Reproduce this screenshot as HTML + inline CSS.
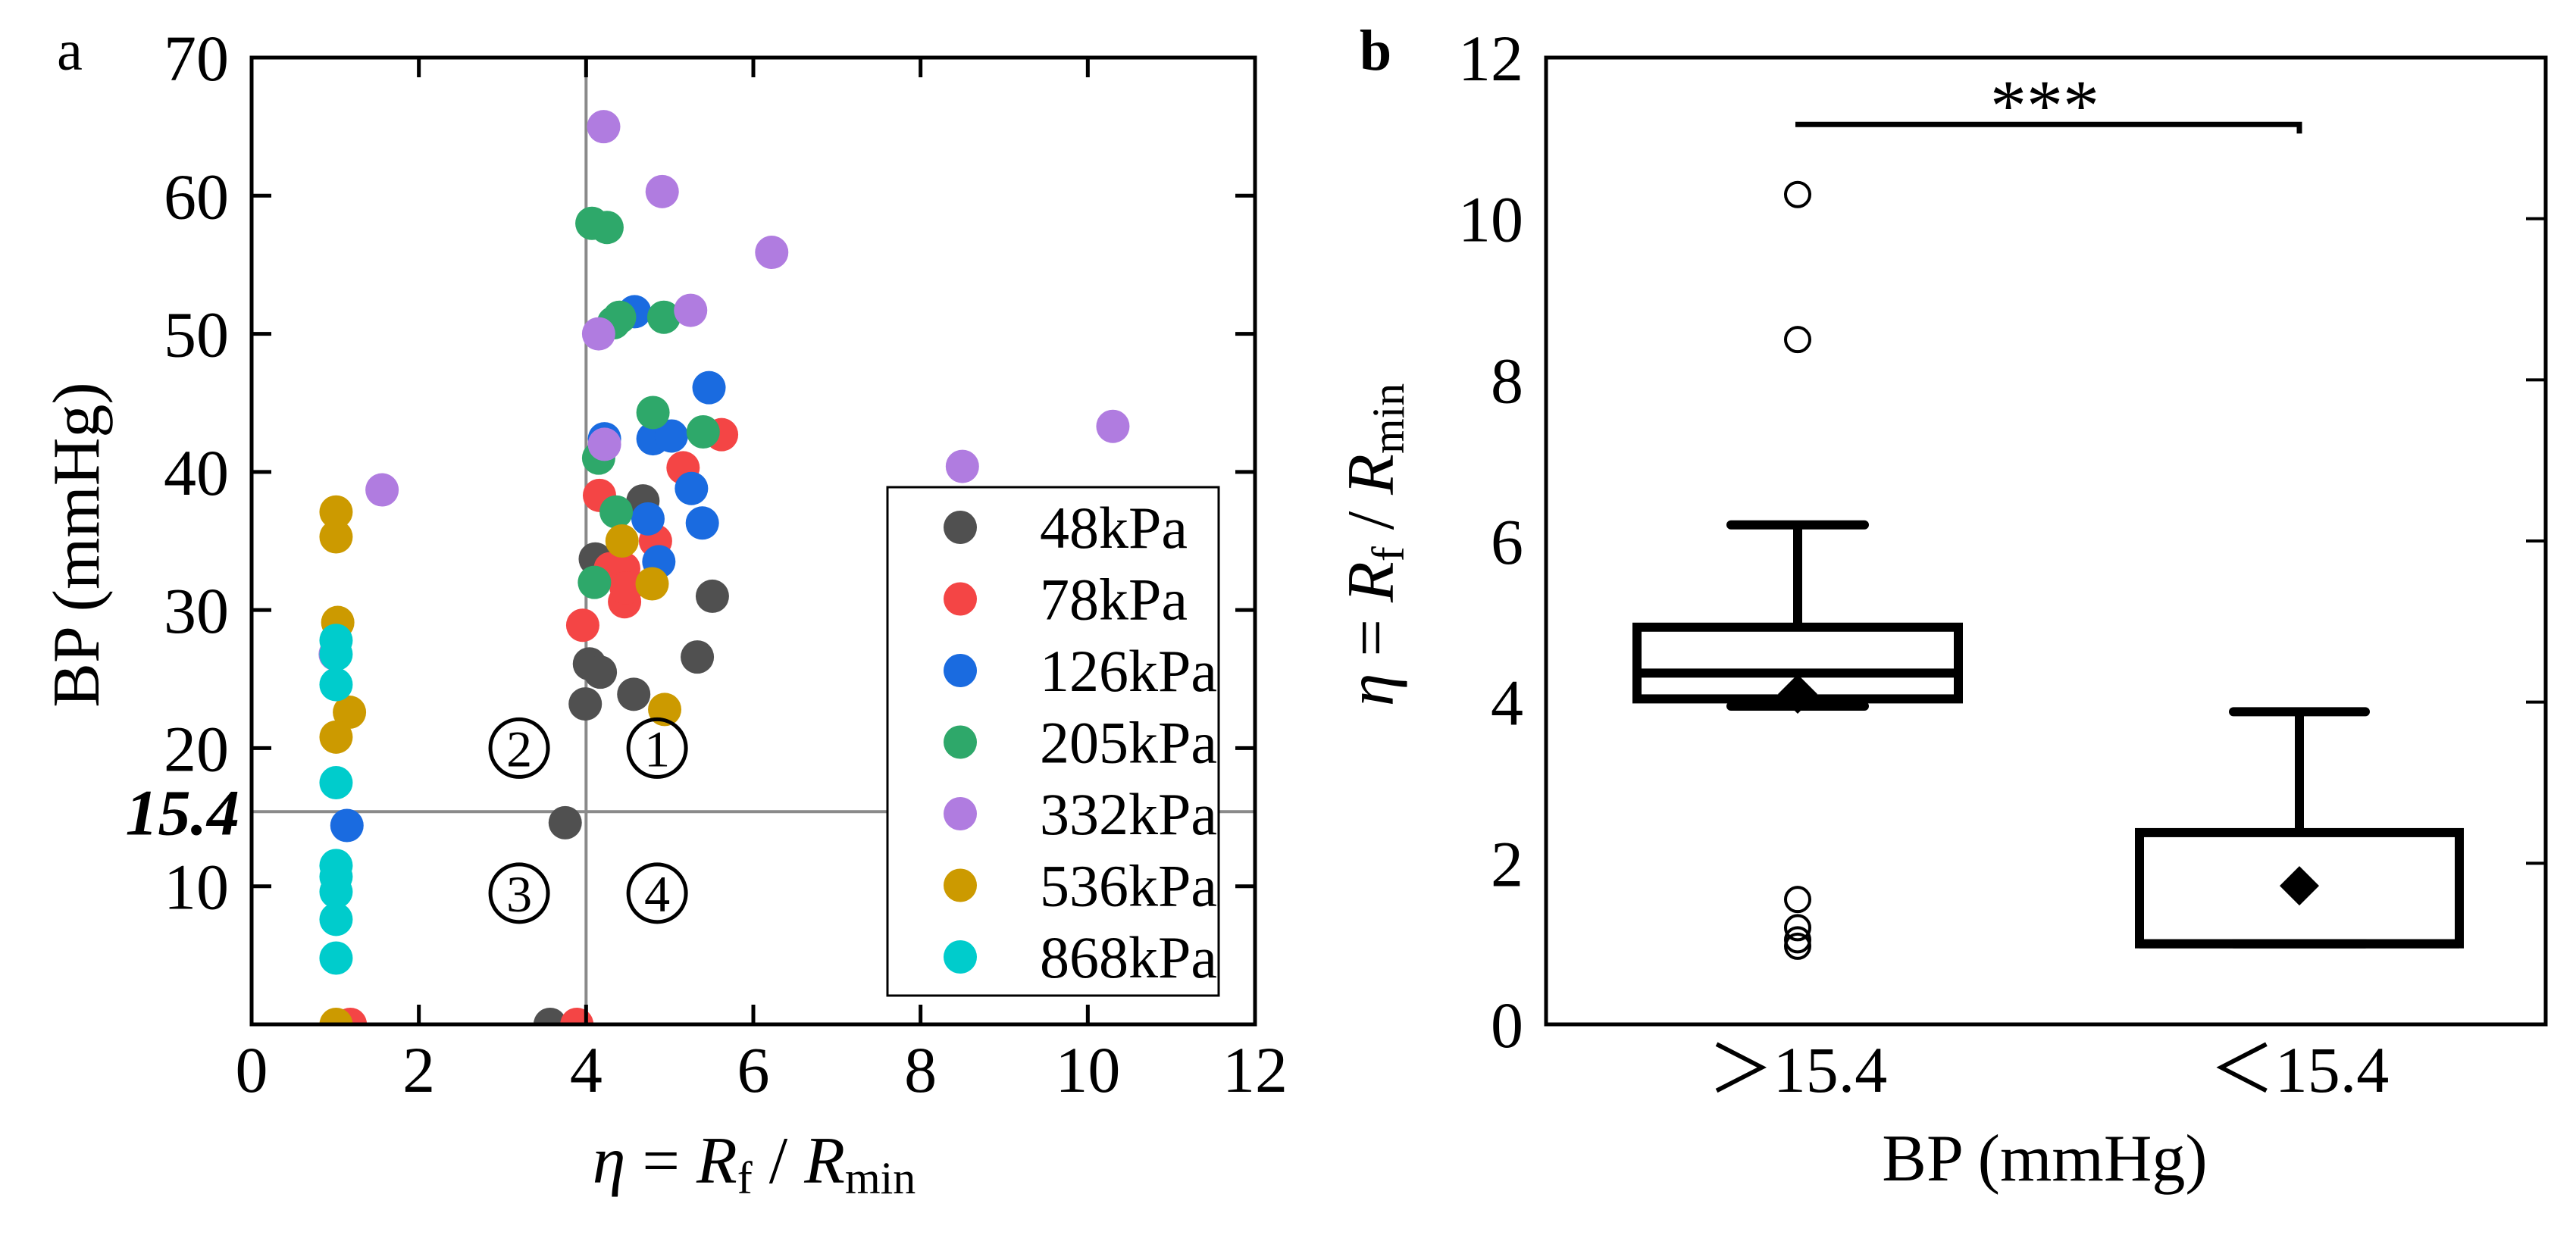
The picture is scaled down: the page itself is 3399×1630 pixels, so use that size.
<!DOCTYPE html>
<html><head><meta charset="utf-8">
<style>
html,body{margin:0;padding:0;background:#fff;}
svg{display:block;font-family:"Liberation Serif","DejaVu Serif",serif;}
</style></head>
<body>
<svg id="fig" width="3399" height="1630" viewBox="0 0 3399 1630" xmlns="http://www.w3.org/2000/svg">
<defs><clipPath id="clipA"><rect x="332" y="76" width="1324" height="1276"/></clipPath></defs>
<g id="panelA"></g>
<g id="panelB"></g>
</svg>
<script>
// ---------- Panel a data ----------
const seriesNames = ["48kPa","78kPa","126kPa","205kPa","332kPa","536kPa","868kPa"];
const seriesColors = ["#505050","#f44545","#1a6be0","#2ea86a","#b07ce0","#cc9a00","#00cccc"];
const etaGray = [3.57,3.75,3.99,4.04,4.17,4.57,4.11,4.68,5.33,5.51];
const bpGray  = [0,14.6,23.2,26.1,25.5,23.9,33.7,37.9,26.6,31.0];
const etaRed  = [1.18,3.89,3.96,4.16,4.29,4.46,4.45,4.83,5.16,5.62,4.48];
const bpRed   = [0,0,28.9,38.3,33.0,30.6,33.0,35.0,40.3,42.7,31.6];
const etaBlue = [1.14,4.22,4.58,4.74,4.80,5.02,4.87,5.26,5.39,5.47];
const bpBlue  = [14.4,42.4,51.6,36.6,42.4,42.6,33.5,38.8,36.3,46.1];
const etaGreen= [4.07,4.25,4.15,4.33,4.40,4.93,4.80,5.40,4.36,4.10];
const bpGreen = [58.0,57.7,41.0,50.8,51.2,51.2,44.3,42.9,37.1,32.0];
const etaPurple=[1.56,1.0,4.21,4.91,6.22,5.25,4.15,4.22,8.5,10.3];
const bpPurple= [38.7,26.8,65.0,60.3,55.9,51.7,50.0,42.0,40.4,43.3];
const etaGold = [1.01,1.01,1.01,1.03,1.17,1.01,4.43,4.79,4.94];
const bpGold  = [0,37.1,35.3,29.1,22.6,20.8,35.0,31.9,22.8];
const etaCyan = [1.01,1.01,1.01,1.01,1.01,1.01,1.01,1.01,1.01];
const bpCyan  = [27.8,26.8,24.6,17.5,11.5,10.7,9.6,7.6,4.8];
const xTicksA = [0,2,4,6,8,10,12];
const yTicksA = [10,20,30,40,50,60,70];
const thresholdBP = 15.4;
const thresholdEta = 4;

// ---------- Panel b data ----------
const groups = ["＞15.4","＜15.4"];
const q1 = [4.04,1.0];
const median = [4.36,1.0];
const q3 = [4.93,2.38];
const whiskerLow = [3.95,1.0];
const whiskerHigh = [6.2,3.88];
const means = [4.1,1.72];
const outliersG1 = [10.3,8.5,1.55,1.2,1.05,0.97];
const yTicksB = [0,2,4,6,8,10,12];
const sigLevel = 11.17;

const NS="http://www.w3.org/2000/svg";
function mk(parent,tag,attrs,text){const e=document.createElementNS(NS,tag);for(const k in attrs)e.setAttribute(k,attrs[k]);if(text!==undefined)e.textContent=text;parent.appendChild(e);return e;}

// ===== Panel a =====
const A=document.getElementById('panelA');
const aL=332,aR=1656,aT=76,aB=1352;
const xA=v=>aL+(v/12)*(aR-aL);
const yA=v=>aB-(v/70)*(aB-aT);
// guide lines
let gl=mk(A,'line',{x1:xA(thresholdEta),x2:xA(thresholdEta),y1:aT,y2:aB,stroke:'#8a8a8a','stroke-width':4});


let hl=mk(A,'line',{x1:aL,x2:aR,y1:yA(thresholdBP),y2:yA(thresholdBP),stroke:'#8a8a8a','stroke-width':4});


// points
const allEta=[etaGray,etaRed,etaBlue,etaGreen,etaPurple,etaGold,etaCyan];
const allBp=[bpGray,bpRed,bpBlue,bpGreen,bpPurple,bpGold,bpCyan];
const pts=mk(A,'g',{'clip-path':'url(#clipA)'});
for(let s=0;s<allEta.length;s++){
  for(let i=0;i<allEta[s].length;i++){
    const c=mk(pts,'circle',{cx:xA(allEta[s][i]),cy:yA(allBp[s][i]),r:22,fill:seriesColors[s]});
    
    
  }
}
// frame
let fa=mk(A,'rect',{x:aL,y:aT,width:aR-aL,height:aB-aT,fill:'none',stroke:'#000','stroke-width':5});


// ticks
xTicksA.forEach(v=>{
  if(v>0&&v<12){
    mk(A,'line',{x1:xA(v),x2:xA(v),y1:aB,y2:aB-26,stroke:'#000','stroke-width':5});
    mk(A,'line',{x1:xA(v),x2:xA(v),y1:aT,y2:aT+26,stroke:'#000','stroke-width':5});
  }
  const t=mk(A,'text',{x:xA(v),y:1441,'font-size':86,'text-anchor':'middle'},String(v));
  
  
});
yTicksA.forEach(v=>{
  if(v<70){
    mk(A,'line',{x1:aL,x2:aL+26,y1:yA(v),y2:yA(v),stroke:'#000','stroke-width':5});
    mk(A,'line',{x1:aR,x2:aR-26,y1:yA(v),y2:yA(v),stroke:'#000','stroke-width':5});
  }
  const t=mk(A,'text',{x:302,y:yA(v)+30,'font-size':86,'text-anchor':'end'},String(v));
  
  
});
let th=mk(A,'text',{x:316,y:yA(thresholdBP)+30,'font-size':86,'text-anchor':'end','font-weight':'bold','font-style':'italic'},'15.4');


// quadrant labels
const quads=[["2",3.2,20],["1",4.85,20],["3",3.2,9.5],["4",4.85,9.5]];
quads.forEach(q=>{
  const g=mk(A,'g',{});
  
  
  mk(g,'circle',{cx:xA(q[1]),cy:yA(q[2]),r:38,fill:'none',stroke:'#000','stroke-width':5});
  mk(g,'text',{x:xA(q[1]),y:yA(q[2])+24,'font-size':68,'text-anchor':'middle'},q[0]);
});
// legend
const lg=mk(A,'g',{});


mk(lg,'rect',{x:1171,y:643,width:437,height:671,fill:'#fff',stroke:'#000','stroke-width':3});
seriesNames.forEach((n,i)=>{
  const y=696+i*94.5;
  const e=mk(lg,'g',{});
  
  
  mk(e,'circle',{cx:1267,cy:y,r:22,fill:seriesColors[i]});
  mk(e,'text',{x:1372,y:y+27,'font-size':78},n);
});
// titles
let xt=mk(A,'text',{x:995,y:1561,'font-size':88,'text-anchor':'middle'});


xt.innerHTML='<tspan font-style="italic">η</tspan> = <tspan font-style="italic">R</tspan><tspan font-size="60" dy="14">f</tspan><tspan dy="-14"> / </tspan><tspan font-style="italic">R</tspan><tspan font-size="60" dy="14">min</tspan>';
let yt=mk(A,'text',{x:0,y:0,'font-size':88,'text-anchor':'middle',transform:'translate(130,719) rotate(-90)'},'BP (mmHg)');


let pa=mk(A,'text',{x:92,y:92,'font-size':76,'text-anchor':'middle'},'a');



// ===== Panel b =====
const B=document.getElementById('panelB');
const bL=2040,bR=3359,bT=76,bB=1352;
const yB=v=>bB-(v/12)*(bB-bT);
const centers=[2372,3034];
const boxHalf=[212,211];
const capHalf=[88,87];
yTicksB.forEach(v=>{
  if(v>0&&v<12) mk(B,'line',{x1:bR,x2:bR-26,y1:yB(v),y2:yB(v),stroke:'#000','stroke-width':4});
  const t=mk(B,'text',{x:2010,y:yB(v)+30,'font-size':86,'text-anchor':'end'},String(v));
  
  
});
groups.forEach((g,i)=>{
  const c=centers[i];
  const bx=mk(B,'g',{});
  
  
  mk(bx,'line',{x1:c,x2:c,y1:yB(q3[i]),y2:yB(whiskerHigh[i]),stroke:'#000','stroke-width':12});
  mk(bx,'line',{x1:c-capHalf[i],x2:c+capHalf[i],y1:yB(whiskerHigh[i]),y2:yB(whiskerHigh[i]),stroke:'#000','stroke-width':12,'stroke-linecap':'round'});
  mk(bx,'line',{x1:c-capHalf[i],x2:c+capHalf[i],y1:yB(whiskerLow[i]),y2:yB(whiskerLow[i]),stroke:'#000','stroke-width':12,'stroke-linecap':'round'});
  mk(bx,'rect',{x:c-boxHalf[i],y:yB(q3[i]),width:2*boxHalf[i],height:yB(q1[i])-yB(q3[i]),fill:'none',stroke:'#000','stroke-width':12});
  mk(bx,'line',{x1:c-boxHalf[i],x2:c+boxHalf[i],y1:yB(median[i]),y2:yB(median[i]),stroke:'#000','stroke-width':12});
  const my=yB(means[i]);
  const d=mk(bx,'polygon',{points:`${c},${my-26} ${c+26},${my} ${c},${my+26} ${c-26},${my}`,fill:'#000'});
  
  
  const t=mk(B,'text',{x:c,y:1441,'font-size':86,'text-anchor':'middle'},g);
  
  
});
outliersG1.forEach(v=>{
  const o=mk(B,'circle',{cx:centers[0],cy:yB(v),r:16,fill:'none',stroke:'#000','stroke-width':4});
  
  
});
let fb=mk(B,'rect',{x:bL,y:bT,width:bR-bL,height:bB-bT,fill:'none',stroke:'#000','stroke-width':5});


let sg=mk(B,'path',{d:`M${centers[0]-3},${yB(sigLevel)} H${centers[1]} V${yB(sigLevel)+12}`,fill:'none',stroke:'#000','stroke-width':7});


let st=mk(B,'text',{x:2698,y:172,'font-size':96,'text-anchor':'middle'},'***');


let xtb=mk(B,'text',{x:2698,y:1558,'font-size':88,'text-anchor':'middle'},'BP (mmHg)');


let ytb=mk(B,'text',{x:0,y:0,'font-size':88,'text-anchor':'middle',transform:'translate(1838,719) rotate(-90)'});


ytb.innerHTML='<tspan font-style="italic">η</tspan> = <tspan font-style="italic">R</tspan><tspan font-size="60" dy="14">f</tspan><tspan dy="-14"> / </tspan><tspan font-style="italic">R</tspan><tspan font-size="60" dy="14">min</tspan>';
let pb=mk(B,'text',{x:1815,y:92,'font-size':76,'text-anchor':'middle','font-weight':'bold'},'b');


</script>
</body></html>
